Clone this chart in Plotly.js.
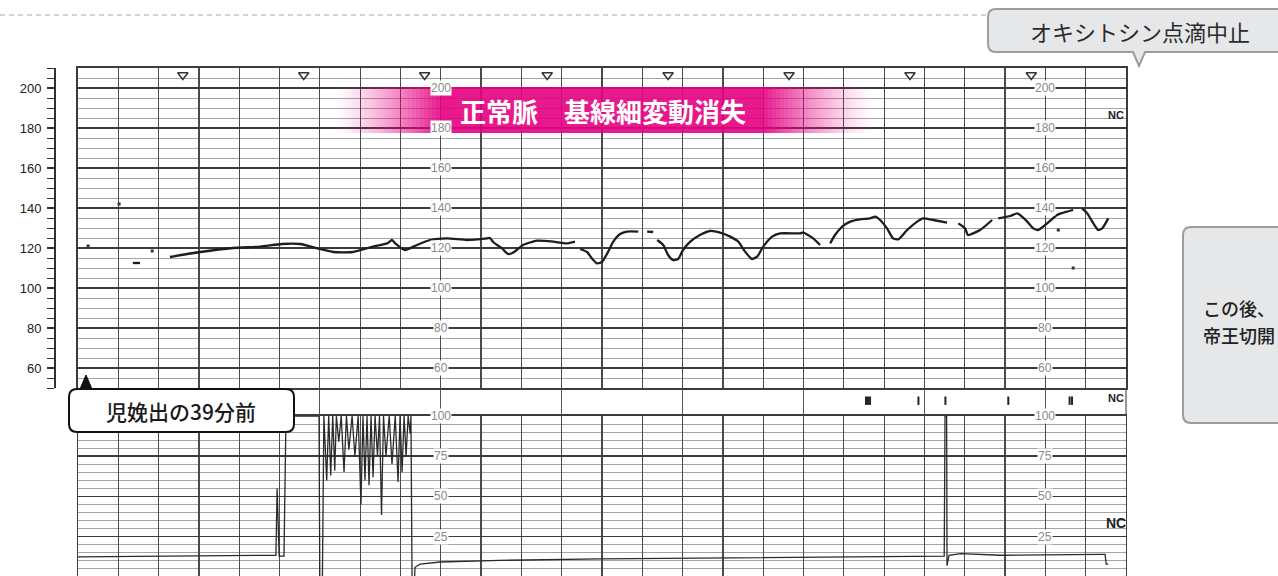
<!DOCTYPE html>
<html>
<head>
<meta charset="utf-8">
<script src="https://cdn.plot.ly/plotly-3.0.1.min.js"></script>
<style>html,body{margin:0;padding:0;background:#fff;}#chart{width:1278px;height:576px;}</style>
</head>
<body>
<div id="chart"></div>
<script>
// ---------- data ----------
// time axis: one unit = one paper grid cell
const fhrTime = [1.36,1.54,null,
  2.28,3.03,3.85,4.52,5.06,5.51,6.00,6.33,6.82,7.32,7.67,7.79,7.87,8.11,8.41,8.73,9.16,9.65,10.15,10.22,10.30,10.52,10.67,10.79,11.04,11.39,11.79,12.13,12.33,null,
  12.46,12.63,12.75,12.88,13.00,13.13,13.28,13.45,13.62,13.90,null,
  14.12,14.27,null,
  14.37,14.52,14.64,14.76,14.89,15.01,15.19,15.43,15.68,15.93,16.18,16.38,16.55,16.72,16.85,17.00,17.22,17.42,17.92,17.99,18.11,18.24,18.41,null,
  18.66,18.78,18.96,19.16,19.40,19.65,19.78,19.90,20.07,20.22,20.35,20.57,20.82,20.97,21.22,21.56,null,
  21.84,22.01,22.08,22.38,22.68,null,
  22.83,23.13,23.30,23.37,23.55,23.70,23.82,24.04,24.29,24.54,24.69,null,
  24.91,25.04,25.19,25.31,25.41,25.56];
const fhrBpm = [112.5,112.5,null,
  115.5,118,120,120.7,122,122,119.5,118,118,120.7,122.3,124,122.3,119,121.5,124,124.8,124,124.8,125,123,119.8,117,117.6,121.5,123.7,123.2,122.3,123.2,null,
  119.5,118,114.8,112.3,113,117.3,123.2,127,128.2,128.2,null,
  128.2,128,null,
  124,121.5,116.5,114,114.5,119,123.2,126.5,128.5,127.7,125.7,123.2,118.2,114.5,115.7,120.7,125.7,127.3,127.3,127.8,126.5,124.8,121.5,null,
  122.3,126.5,130.7,133.2,134.3,134.8,135.7,134,129.8,124.8,124.3,129,133.2,134.8,134,132.7,null,
  132.3,129.8,126.5,129,134,null,
  134.8,136,137.3,136.5,133.2,129.8,129,132.3,136.5,138.2,139,null,
  139.8,137.3,132.3,129,129.8,134.8];
const dotTime = [0.25,1.02,1.84,24.32,24.69];
const dotBpm  = [121,142,118.5,129,110];

const uaTime = [0,3.03,4.89,4.91,4.94,4.99,5.11,5.16,5.98,6.00,6.06,6.10,
  6.17,6.22,6.27,6.32,6.37,6.41,6.47,6.53,6.60,6.66,6.72,6.80,6.87,6.95,7.02,7.07,7.12,7.17,7.22,7.27,7.32,7.37,7.43,7.48,7.53,7.58,7.64,7.72,7.79,7.87,7.94,7.99,8.04,8.09,8.14,8.19,8.24,8.26,8.29,8.34,
  8.36,8.49,8.98,10.47,12.95,15.43,17.92,21.49,21.51,21.55,21.56,21.61,21.9,22.88,25.36,25.48,25.51,25.56];
const uaValue = [12.5,13.2,13.8,13.5,55,13,13,100,100,-10,-10,100,
  60,100,63,100,66,100,84,100,65,100,79,100,75,100,45,100,60,100,57,100,62,100,75,100,38.5,100,75,100,70,100,59,100,65,100,75,100,89,100,-10,-10,
  6,8,9.3,10.3,11.2,11.8,12.5,13,100,100,7,13.5,14.5,13.5,14,14,8,8];

const fhrTickLabels = [60,80,100,120,140,160,180,200];
const uaTickLabels = [0,25,50,75,100];
const paperScaleColumns = [9,24];
const markTimes = [2.6,5.6,8.6,11.64,14.64,17.64,20.64,23.65];
const eventTimes = [19.55,19.6,19.65,20.85,21.52,23.08,24.6,24.66];

// ---------- helpers ----------
const W = 1278, H = 576;
const px = x => x / W, py = y => 1 - y / H;
const P = (x, y) => px(x).toFixed(5) + ',' + py(y).toFixed(5);
function rrect(x0, y0, x1, y1, r) {
  return `M${P(x0 + r, y0)} L${P(x1 - r, y0)} Q${P(x1, y0)} ${P(x1, y0 + r)} L${P(x1, y1 - r)} Q${P(x1, y1)} ${P(x1 - r, y1)} L${P(x0 + r, y1)} Q${P(x0, y1)} ${P(x0, y1 - r)} L${P(x0, y0 + r)} Q${P(x0, y0)} ${P(x0 + r, y0)} Z`;
}
function calloutDown(x0, y0, x1, y1, r, tx, tw, ty) {
  return `M${P(x0 + r, y0)} L${P(x1 - r, y0)} Q${P(x1, y0)} ${P(x1, y0 + r)} L${P(x1, y1 - r)} Q${P(x1, y1)} ${P(x1 - r, y1)} L${P(tx + tw, y1)} L${P(tx, ty)} L${P(tx - tw, y1)} L${P(x0 + r, y1)} Q${P(x0, y1)} ${P(x0, y1 - r)} L${P(x0, y0 + r)} Q${P(x0, y0)} ${P(x0 + r, y0)} Z`;
}

const JP = '"Noto Sans CJK JP", "Noto Sans", sans-serif';
const gridMajor = '#3c3c3c', gridMinor = '#9a9a9a';

// ---------- traces ----------
const traces = [
  {x: fhrTime, y: fhrBpm, xaxis: 'x', yaxis: 'y', mode: 'lines', connectgaps: false,
   line: {color: '#1e1e1e', width: 2.3, shape: 'spline', smoothing: 0.5}, hoverinfo: 'skip'},
  {x: dotTime, y: dotBpm, xaxis: 'x', yaxis: 'y', mode: 'markers',
   marker: {symbol: 'square', size: 3, color: '#333'}, hoverinfo: 'skip'},
  {x: markTimes, y: markTimes.map(() => 206.5), xaxis: 'x', yaxis: 'y2', mode: 'markers',
   marker: {symbol: 'triangle-down-open', size: 9, color: '#333', line: {width: 1.5, color: '#333'}}, hoverinfo: 'skip'},
  {x: uaTime, y: uaValue, xaxis: 'x2', yaxis: 'y3', mode: 'lines',
   line: {color: '#2a2a2a', width: 1.3}, hoverinfo: 'skip'},
  {x: eventTimes, y: eventTimes.map(() => 0.55), xaxis: 'x3', yaxis: 'y4', mode: 'markers',
   marker: {symbol: 'line-ns', size: 6, line: {width: 2, color: '#222'}}, hoverinfo: 'skip'}
];

const xdom = [px(78), px(1126)];
const layout = {
  width: W, height: H,
  margin: {l: 0, r: 0, t: 0, b: 0},
  paper_bgcolor: '#fff', plot_bgcolor: 'rgba(0,0,0,0)',
  showlegend: false,
  xaxis: {domain: xdom, range: [0, 26], anchor: 'y', tickmode: 'linear', tick0: 0, dtick: 1,
    showgrid: true, gridcolor: '#4a4a4a', gridwidth: 1.2, zeroline: false, showticklabels: false,
    ticks: '', showline: true, mirror: true, linecolor: gridMajor, linewidth: 1.6, fixedrange: true},
  yaxis: {domain: [py(388), py(68)], range: [50, 210], anchor: 'x', tickmode: 'linear', tick0: 0, dtick: 20,
    showgrid: true, gridcolor: gridMajor, gridwidth: 1.5, zeroline: false, showticklabels: false, ticks: '',
    minor: {tickmode: 'linear', tick0: 0, dtick: 5, showgrid: true, gridcolor: gridMinor, gridwidth: 0.9},
    showline: true, mirror: true, linecolor: gridMajor, linewidth: 1.6, fixedrange: true},
  yaxis2: {overlaying: 'y', anchor: 'free', position: px(54), side: 'left', range: [50, 210],
    tickmode: 'linear', tick0: 0, dtick: 20, ticks: 'outside', ticklen: 7, tickwidth: 1.3, tickcolor: '#333',
    showline: true, linecolor: '#333', linewidth: 1.5, showgrid: false, zeroline: false,
    ticklabelstandoff: 3,
    minor: {tickmode: 'linear', tick0: 0, dtick: 5, ticks: 'outside', ticklen: 7, tickwidth: 1, tickcolor: '#333', showgrid: false},
    tickfont: {family: 'Liberation Sans, Arial, sans-serif', size: 13, color: '#222'}, fixedrange: true},
  xaxis2: {domain: xdom, range: [0, 26], anchor: 'y3', matches: 'x', tickmode: 'linear', tick0: 0, dtick: 1,
    showgrid: true, gridcolor: '#4a4a4a', gridwidth: 1.2, zeroline: false, showticklabels: false, ticks: '',
    showline: true, mirror: true, linecolor: gridMajor, linewidth: 1.6, fixedrange: true},
  yaxis3: {domain: [0, py(416)], range: [0.6, 100], anchor: 'x2', tickmode: 'linear', tick0: 0, dtick: 25,
    showgrid: true, gridcolor: gridMajor, gridwidth: 1.5, zeroline: false, showticklabels: false, ticks: '',
    minor: {tickmode: 'linear', tick0: 0, dtick: 5, showgrid: true, gridcolor: gridMinor, gridwidth: 0.9},
    showline: true, mirror: true, linecolor: gridMajor, linewidth: 1.4, fixedrange: true},
  xaxis3: {domain: xdom, range: [0, 26], anchor: 'y4', tickmode: 'linear', tick0: 0, dtick: 3,
    showgrid: true, gridcolor: '#555', gridwidth: 1.2, zeroline: false, showticklabels: false, ticks: '',
    showline: false, fixedrange: true},
  yaxis4: {domain: [py(415), py(389)], range: [0, 1], anchor: 'x3', showgrid: false, zeroline: false,
    showticklabels: false, ticks: '', showline: false, fixedrange: true},
  shapes: [],
  annotations: []
};

// right border of the event band
layout.shapes.push({type: 'line', xref: 'paper', yref: 'paper', x0: px(1126), x1: px(1126), y0: py(415), y1: py(389),
  line: {color: '#555', width: 1.2}});

// top dashed separator
layout.shapes.push({type: 'line', xref: 'paper', yref: 'paper', x0: 0, x1: px(988), y0: py(15), y1: py(15),
  line: {color: '#a8a8a8', width: 1, dash: '5px,4px'}});

// pink banner with soft edges
const pink = '#e4007f';
layout.shapes.push({type: 'rect', xref: 'paper', yref: 'paper', x0: px(440), x1: px(764), y0: py(133), y1: py(87),
  fillcolor: pink, opacity: 0.9, line: {width: 0}, layer: 'above'});
const nL = 26, lw = 4;
for (let i = 0; i < nL; i++) {
  const a = 0.9 * Math.pow((i + 1) / (nL + 1), 1.3);
  layout.shapes.push({type: 'rect', xref: 'paper', yref: 'paper', x0: px(440 - (nL - i) * lw), x1: px(440 - (nL - i - 1) * lw),
    y0: py(133), y1: py(87), fillcolor: pink, opacity: a, line: {width: 0}, layer: 'above'});
}
const nR = 27;
for (let i = 0; i < nR; i++) {
  const a = 0.9 * Math.pow((nR - i) / (nR + 1), 1.3);
  layout.shapes.push({type: 'rect', xref: 'paper', yref: 'paper', x0: px(764 + i * lw), x1: px(764 + (i + 1) * lw),
    y0: py(133), y1: py(87), fillcolor: pink, opacity: a, line: {width: 0}, layer: 'above'});
}
layout.annotations.push({xref: 'paper', yref: 'paper', x: px(603), y: py(110), text: '正常脈　基線細変動消失',
  showarrow: false, xanchor: 'center', yanchor: 'middle',
  font: {family: JP, size: 26, color: '#ffffff', weight: 700}});

// top-right callout
layout.shapes.push({type: 'path', xref: 'paper', yref: 'paper', path: calloutDown(988, 9, 1310, 52, 8, 1139, 6, 66),
  fillcolor: '#e6e7e8', line: {color: '#9d9d9d', width: 2}, layer: 'above'});
layout.annotations.push({xref: 'paper', yref: 'paper', x: px(1140), y: py(31), text: 'オキシトシン点滴中止',
  showarrow: false, xanchor: 'center', yanchor: 'middle', font: {family: JP, size: 22, color: '#2b2b2b'}});

// right side box
layout.shapes.push({type: 'path', xref: 'paper', yref: 'paper', path: rrect(1183, 227, 1320, 423, 8),
  fillcolor: '#e6e7e8', line: {color: '#9d9d9d', width: 2}, layer: 'above'});
layout.annotations.push({xref: 'paper', yref: 'paper', x: px(1201), y: py(308), text: 'この後、',
  showarrow: false, xanchor: 'left', yanchor: 'middle', font: {family: JP, size: 18, color: '#222', weight: 500}});
layout.annotations.push({xref: 'paper', yref: 'paper', x: px(1201), y: py(335), text: '帝王切開',
  showarrow: false, xanchor: 'left', yanchor: 'middle', font: {family: JP, size: 18, color: '#222', weight: 500}});

// "児娩出の39分前" bubble
layout.shapes.push({type: 'path', xref: 'paper', yref: 'paper', path: `M${P(80, 389)} L${P(86, 375)} L${P(92, 389)} Z`,
  fillcolor: '#111', line: {color: '#111', width: 1}, layer: 'above'});
layout.shapes.push({type: 'path', xref: 'paper', yref: 'paper', path: rrect(69, 389, 294, 432, 8),
  fillcolor: '#ffffff', line: {color: '#111', width: 2}, layer: 'above'});
layout.annotations.push({xref: 'paper', yref: 'paper', x: px(181), y: py(411), text: '児娩出の39分前',
  showarrow: false, xanchor: 'center', yanchor: 'middle', font: {family: JP, size: 21, color: '#1a1a1a', weight: 500}});

// printed paper-scale labels
paperScaleColumns.forEach(c => {
  fhrTickLabels.forEach(v => {
    layout.annotations.push({xref: 'x', yref: 'y', x: c, y: v, text: String(v), showarrow: false,
      xanchor: 'center', yanchor: 'middle', bgcolor: '#ffffff', borderpad: 0,
      font: {family: 'Liberation Sans, Arial, sans-serif', size: 12, color: '#8a8a8a'}});
  });
  uaTickLabels.forEach(v => {
    layout.annotations.push({xref: 'x2', yref: 'y3', x: c, y: v, text: String(v), showarrow: false,
      xanchor: 'center', yanchor: 'middle', bgcolor: '#ffffff', borderpad: 0,
      font: {family: 'Liberation Sans, Arial, sans-serif', size: 12, color: '#8a8a8a'}});
  });
});

// NC labels
const ncFont = s => ({family: 'Liberation Sans Narrow, Liberation Sans, Arial, sans-serif', size: s, color: '#222', weight: 700});
[[115, 11], [398, 11], [523, 14]].forEach(([yy, s]) => {
  layout.annotations.push({xref: 'paper', yref: 'paper', x: px(1116), y: py(yy), text: 'NC', showarrow: false,
    xanchor: 'center', yanchor: 'middle', font: ncFont(s)});
});

Plotly.newPlot('chart', traces, layout, {staticPlot: true, displayModeBar: false});
</script>
</body>
</html>
